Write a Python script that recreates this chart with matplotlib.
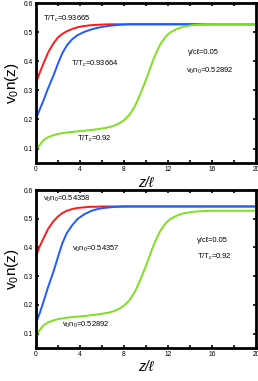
import matplotlib.pyplot as plt
from matplotlib.ticker import MultipleLocator

plt.rcParams['font.family'] = ['Liberation Sans', 'DejaVu Sans']
plt.rcParams['mathtext.fontset'] = 'custom'
plt.rcParams['mathtext.rm'] = 'Liberation Sans'
plt.rcParams['mathtext.it'] = 'Liberation Sans:italic'

# values
z = [0, 0.35, 0.7, 1.1, 1.6, 2.0, 2.4, 2.8, 3.3, 3.8, 4.4, 5.0, 5.5, 6.0, 6.5, 7.0, 7.5, 8.0,
     8.5, 9.0, 9.5, 10.0, 10.4, 10.8, 11.3, 11.8, 12.2, 12.8, 13.4, 14.2, 15.2, 16.0, 18.0, 20.0]

red_top = [0.325, 0.362, 0.394, 0.430, 0.462, 0.482, 0.494, 0.503, 0.511, 0.517, 0.521, 0.524,
           0.525, 0.526, 0.527, 0.527, 0.527, 0.527, 0.527, 0.527, 0.527, 0.527, 0.527, 0.527,
           0.527, 0.527, 0.527, 0.527, 0.527, 0.527, 0.527, 0.527, 0.527, 0.527]
blue_top = [0.203, 0.235, 0.267, 0.307, 0.352, 0.392, 0.428, 0.454, 0.476, 0.490, 0.501, 0.509,
            0.514, 0.518, 0.521, 0.523, 0.525, 0.526, 0.527, 0.527, 0.527, 0.527, 0.527, 0.527,
            0.527, 0.527, 0.527, 0.527, 0.527, 0.527, 0.527, 0.527, 0.527, 0.527]
green = [0.092, 0.113, 0.129, 0.139, 0.146, 0.150, 0.153, 0.155, 0.157, 0.159, 0.161, 0.164,
         0.166, 0.169, 0.172, 0.177, 0.185, 0.197, 0.216, 0.246, 0.288, 0.336, 0.378, 0.418,
         0.458, 0.485, 0.499, 0.511, 0.519, 0.524, 0.527, 0.528, 0.528, 0.528]

red_bot = [0.370, 0.405, 0.433, 0.465, 0.492, 0.508, 0.520, 0.528, 0.534, 0.538, 0.540, 0.542,
           0.542, 0.543, 0.543, 0.543, 0.543, 0.543, 0.543, 0.543, 0.543, 0.543, 0.543, 0.543,
           0.543, 0.543, 0.543, 0.543, 0.543, 0.543, 0.543, 0.543, 0.543, 0.543]
blue_bot = [0.137, 0.172, 0.213, 0.262, 0.317, 0.367, 0.415, 0.450, 0.478, 0.500, 0.516, 0.527,
            0.533, 0.537, 0.539, 0.541, 0.542, 0.543, 0.543, 0.543, 0.543, 0.543, 0.543, 0.543,
            0.543, 0.543, 0.543, 0.543, 0.543, 0.543, 0.543, 0.543, 0.543, 0.543]

red = '#ff1a1a'
blue = '#1f5aff'
lime = '#7de020'

fig = plt.figure(figsize=(2.58, 3.81), dpi=100)
ax1 = fig.add_axes([0.1395, 0.572, 0.8525, 0.42])
ax2 = fig.add_axes([0.1395, 0.087, 0.8525, 0.414])

for ax, r, b in [(ax1, red_top, blue_top), (ax2, red_bot, blue_bot)]:
    ax.plot(z, r, color=red, lw=1.4)
    ax.plot(z, b, color=blue, lw=1.4)
    ax.plot(z, green, color=lime, lw=1.4)
    ax.set_xlim(0, 20)
    ax.set_ylim(0.05, 0.6)
    ax.xaxis.set_major_locator(MultipleLocator(4))
    ax.xaxis.set_minor_locator(MultipleLocator(2))
    ax.yaxis.set_major_locator(MultipleLocator(0.1))
    ax.tick_params(which='both', direction='in', top=True, right=True, length=2.2, width=1.2,
                   labelsize=4.8, pad=2)
    for s in ax.spines.values():
        s.set_linewidth(2.0)
    ax.set_ylabel('v$_0$n(z)', fontsize=11, labelpad=2)
    ax.set_xlabel('z/ℓ', fontsize=10, style='italic', labelpad=2)

fs = 5.4
ax1.text(0.65, 0.54, 'T/T$_c$=0.93665', fontsize=fs)
ax1.text(3.2, 0.383, 'T/T$_c$=0.93664', fontsize=fs)
ax1.text(3.7, 0.126, 'T/T$_c$=0.92', fontsize=fs)
ax1.text(13.8, 0.425, 'γ/cℓ=0.05', fontsize=fs)
ax1.text(13.6, 0.36, 'v$_0$n$_0$=0.52892', fontsize=fs)

ax2.text(0.65, 0.562, 'v$_0$n$_0$=0.54358', fontsize=fs)
ax2.text(3.25, 0.39, 'v$_0$n$_0$=0.54357', fontsize=fs)
ax2.text(2.4, 0.125, 'v$_0$n$_0$=0.52892', fontsize=fs)
ax2.text(14.6, 0.42, 'γ/cℓ=0.05', fontsize=fs)
ax2.text(14.6, 0.36, 'T/T$_c$=0.92', fontsize=fs)

fig.savefig('out.png', dpi=100)
